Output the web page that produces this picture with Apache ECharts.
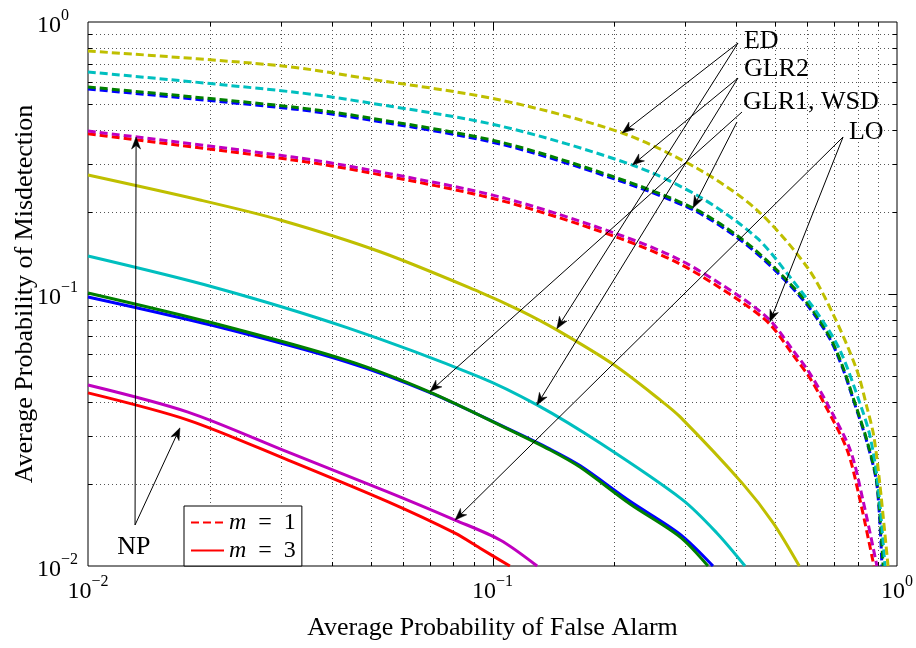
<!DOCTYPE html>
<html>
<head>
<meta charset="utf-8">
<script src="https://cdn.jsdelivr.net/npm/echarts@6/dist/echarts.min.js"></script>
<style>
html,body{margin:0;padding:0;background:#fff;}
#chart{width:916px;height:648px;}
</style>
</head>
<body>
<div id="chart"></div>
<script>
// ---------- tick labels ----------
const xTickExp = ['−2', '−1', '0'];
const yTickExp = ['−2', '−1', '0'];
const gridValues = [0.02,0.03,0.04,0.05,0.06,0.07,0.08,0.09,0.1,0.2,0.3,0.4,0.5,0.6,0.7,0.8,0.9];

// ---------- m = 1 (dashed) ----------
const npPfa1 = [0.01, 0.0321, 0.0498, 0.1045, 0.2, 0.2906, 0.4101, 0.4847, 0.5529, 0.6083, 0.66, 0.753, 0.81, 0.877];
const npPmd1 = [0.388, 0.311, 0.279, 0.221, 0.163, 0.129, 0.094, 0.0775, 0.0598, 0.0492, 0.0397, 0.0267, 0.0175, 0.01];
const loPfa1 = [0.01, 0.0321, 0.0498, 0.1045, 0.2, 0.2906, 0.4101, 0.4847, 0.5529, 0.6083, 0.671, 0.7662, 0.8236, 0.892];
const loPmd1 = [0.3974, 0.319, 0.2857, 0.2273, 0.1676, 0.1334, 0.0975, 0.0802, 0.0622, 0.0512, 0.0397, 0.0267, 0.0175, 0.01];
const glr1Pfa1 = [0.01, 0.0321, 0.0498, 0.1045, 0.2, 0.3131, 0.4101, 0.5045, 0.5993, 0.6823, 0.7349, 0.7782, 0.8424, 0.892, 0.918];
const glr1Pmd1 = [0.567, 0.479, 0.436, 0.356, 0.265, 0.204, 0.158, 0.1205, 0.0912, 0.0684, 0.0531, 0.0412, 0.0286, 0.0199, 0.01];
const wsdPfa1 = [0.01, 0.0321, 0.0498, 0.1045, 0.2, 0.3131, 0.4101, 0.5045, 0.5993, 0.6823, 0.7349, 0.7782, 0.8424, 0.892, 0.924];
const wsdPmd1 = [0.5768, 0.487, 0.4436, 0.362, 0.2692, 0.2071, 0.1607, 0.1225, 0.0927, 0.0695, 0.0539, 0.0418, 0.029, 0.0202, 0.01];
const glr2Pfa1 = [0.01, 0.0321, 0.0498, 0.1045, 0.2217, 0.3258, 0.4506, 0.5437, 0.6455, 0.7226, 0.8096, 0.8573, 0.8964, 0.934];
const glr2Pmd1 = [0.6551, 0.553, 0.5037, 0.4147, 0.2979, 0.2273, 0.1607, 0.1155, 0.0823, 0.0622, 0.0397, 0.0301, 0.0202, 0.01];
const edPfa1 = [0.01, 0.02985, 0.0498, 0.1045, 0.2093, 0.3258, 0.4506, 0.5993, 0.6931, 0.7955, 0.8424, 0.8761, 0.907, 0.9502];
const edPmd1 = [0.7821, 0.6909, 0.6172, 0.5166, 0.3907, 0.2857, 0.2036, 0.1257, 0.0851, 0.0526, 0.0384, 0.0301, 0.02, 0.01];

// ---------- m = 3 (solid) ----------
const npPfa3 = [0.01, 0.01767, 0.03124, 0.05524, 0.0808, 0.093, 0.1104];
const npPmd3 = [0.0433, 0.0344, 0.0245, 0.0172, 0.0132, 0.01164, 0.01];
const loPfa3 = [0.01, 0.01767, 0.03124, 0.05524, 0.0808, 0.1044, 0.1289];
const loPmd3 = [0.0463, 0.0368, 0.0262, 0.0187, 0.01476, 0.01246, 0.01];
const glr1Pfa3 = [0.01, 0.02037, 0.04368, 0.07005, 0.1105, 0.1388, 0.1645, 0.2188, 0.2906, 0.3508];
const glr1Pmd3 = [0.0975, 0.0765, 0.0562, 0.0434, 0.0317, 0.0269, 0.0234, 0.0173, 0.0131, 0.01];
const wsdPfa3 = [0.01, 0.02037, 0.04368, 0.07005, 0.1105, 0.1388, 0.1645, 0.2188, 0.2906, 0.341];
const wsdPmd3 = [0.1009, 0.0782, 0.0570, 0.0436, 0.0316, 0.0267, 0.0231, 0.0169, 0.0128, 0.01];
const glr2Pfa3 = [0.01, 0.02037, 0.04368, 0.093, 0.1288, 0.1845, 0.2951, 0.359, 0.421];
const glr2Pmd3 = [0.1379, 0.1061, 0.0752, 0.0495, 0.0391, 0.0283, 0.0175, 0.0132, 0.01];
const edPfa3 = [0.01, 0.01891, 0.02985, 0.05271, 0.093, 0.1169, 0.1442, 0.2, 0.2596, 0.2906, 0.4163, 0.494, 0.5733];
const edPmd3 = [0.2738, 0.2216, 0.1871, 0.143, 0.1017, 0.0871, 0.0738, 0.0548, 0.0408, 0.0354, 0.0200, 0.0144, 0.01];

// ---------- annotations (data coordinates) ----------
const arrowFromX = [0.4045, 0.4045, 0.4045, 0.4045, 0.4022, 0.4138, 0.7356, 0.7356, 0.01307, 0.01307];
const arrowFromY = [0.837, 0.837, 0.6223, 0.6223, 0.4289, 0.4667, 0.3777, 0.3777, 0.01415, 0.01415];
const arrowToX = [0.2093, 0.1442, 0.2217, 0.1288, 0.3131, 0.07005, 0.4847, 0.0808, 0.01315, 0.01688];
const arrowToY = [0.3907, 0.0745, 0.2979, 0.0391, 0.2071, 0.0438, 0.0789, 0.01476, 0.3777, 0.0322];
const labelText = ['ED', 'GLR2', 'GLR1, WSD', 'LO', 'NP'];
const labelX = [0.4184, 0.4184, 0.4162, 0.7608, 0.01299];
const labelY = [0.851, 0.672, 0.508, 0.394, 0.01175];
const labelAlign = ['left', 'left', 'left', 'left', 'center'];

// ---------- build ----------
const FONT = 'Liberation Serif';
const C = {red:'#ff0000', mag:'#bf00bf', blue:'#0000ff', green:'#008000', cyan:'#00bfbf', yel:'#bfbf00'};
const zip = (a, b) => a.map((v, i) => [v, b[i]]);
const DASH = [8, 4];

function lineSeries(name, xs, ys, color, dashed, z) {
  return {
    type: 'line', name: name, data: zip(xs, ys),
    symbol: 'none', showSymbol: false, smooth: 0.3, silent: true,
    lineStyle: {color: color, width: 3, type: dashed ? DASH : 'solid', cap: 'butt', join: 'round'},
    itemStyle: {color: color},
    z: z
  };
}

const gridItems = [];
gridValues.forEach(v => gridItems.push({dir: 'x', v: v}));
gridValues.forEach(v => gridItems.push({dir: 'y', v: v}));

function renderGrid(params, api) {
  const g = gridItems[params.dataIndex];
  const cs = params.coordSys;
  const x0 = cs.x, y0 = cs.y, x1 = cs.x + cs.width, y1 = cs.y + cs.height;
  const lg = Math.log10(g.v);
  const major = Math.abs(lg - Math.round(lg)) < 1e-9;
  const tl = major ? 8 : 4;
  const dot = {stroke: '#555', lineWidth: 1, lineDash: [1, 3]};
  const solid = {stroke: '#000', lineWidth: 1};
  if (g.dir === 'x') {
    const px = Math.round(api.coord([g.v, 0.1])[0]) + 0.5;
    return {type: 'group', children: [
      {type: 'line', shape: {x1: px, y1: y0, x2: px, y2: y1}, style: dot},
      {type: 'line', shape: {x1: px, y1: y1, x2: px, y2: y1 - tl}, style: solid},
      {type: 'line', shape: {x1: px, y1: y0, x2: px, y2: y0 + tl}, style: solid}
    ]};
  } else {
    const py = Math.round(api.coord([0.1, g.v])[1]) + 0.5;
    return {type: 'group', children: [
      {type: 'line', shape: {x1: x0, y1: py, x2: x1, y2: py}, style: dot},
      {type: 'line', shape: {x1: x0, y1: py, x2: x0 + tl, y2: py}, style: solid},
      {type: 'line', shape: {x1: x1, y1: py, x2: x1 - tl, y2: py}, style: solid}
    ]};
  }
}

const nArrows = arrowFromX.length;
const annData = [];
for (let i = 0; i < nArrows; i++) annData.push([arrowToX[i], arrowToY[i]]);
for (let i = 0; i < labelText.length; i++) annData.push([labelX[i], labelY[i]]);

function renderAnn(params, api) {
  const i = params.dataIndex;
  if (i < nArrows) {
    const a = api.coord([arrowFromX[i], arrowFromY[i]]);
    const b = api.coord([arrowToX[i], arrowToY[i]]);
    const dx = b[0] - a[0], dy = b[1] - a[1];
    const L = Math.hypot(dx, dy);
    const ux = dx / L, uy = dy / L, nx = -uy, ny = ux;
    const hl = 12, hw = 4.5, notch = 3.5;
    const pts = [
      [b[0], b[1]],
      [b[0] - hl * ux + hw * nx, b[1] - hl * uy + hw * ny],
      [b[0] - (hl - notch) * ux, b[1] - (hl - notch) * uy],
      [b[0] - hl * ux - hw * nx, b[1] - hl * uy - hw * ny]
    ];
    return {type: 'group', children: [
      {type: 'line', shape: {x1: a[0], y1: a[1], x2: b[0] - (hl - notch) * ux, y2: b[1] - (hl - notch) * uy},
       style: {stroke: '#000', lineWidth: 1}},
      {type: 'polygon', shape: {points: pts}, style: {fill: '#000', stroke: '#000', lineWidth: 0.5}}
    ]};
  }
  const k = i - nArrows;
  const p = api.coord([labelX[k], labelY[k]]);
  return {type: 'text', x: p[0], y: p[1], style: {
    text: labelText[k], fontFamily: FONT, fontSize: 26, fill: '#000',
    align: labelAlign[k], verticalAlign: 'middle'
  }};
}

const labelRich = {
  b: {fontFamily: FONT, fontSize: 24, lineHeight: 32, verticalAlign: 'bottom', color: '#000'},
  s: {fontFamily: FONT, fontSize: 16, height: 20, verticalAlign: 'top', color: '#000'}
};
function expOf(v) { return Math.round(Math.log10(v)); }
const xFmt = v => '{b|10}{s|' + xTickExp[expOf(v) + 2] + '}';
const yFmt = v => '{b|10}{s|' + yTickExp[expOf(v) + 2] + '}';

const series = [
  {type: 'custom', renderItem: renderGrid, data: gridItems.map(g => g.dir === 'x' ? [g.v, 0.1] : [0.1, g.v]),
   silent: true, z: 1, clip: false},
  lineSeries('m = 1', npPfa1, npPmd1, C.red, true, 2),
  lineSeries('LO1', loPfa1, loPmd1, C.mag, true, 2),
  lineSeries('GLR1_1', glr1Pfa1, glr1Pmd1, C.blue, true, 2),
  lineSeries('WSD1', wsdPfa1, wsdPmd1, C.green, true, 2),
  lineSeries('GLR2_1', glr2Pfa1, glr2Pmd1, C.cyan, true, 2),
  lineSeries('ED1', edPfa1, edPmd1, C.yel, true, 2),
  lineSeries('m = 3', npPfa3, npPmd3, C.red, false, 2),
  lineSeries('LO3', loPfa3, loPmd3, C.mag, false, 2),
  lineSeries('GLR1_3', glr1Pfa3, glr1Pmd3, C.blue, false, 2),
  lineSeries('WSD3', wsdPfa3, wsdPmd3, C.green, false, 2),
  lineSeries('GLR2_3', glr2Pfa3, glr2Pmd3, C.cyan, false, 2),
  lineSeries('ED3', edPfa3, edPmd3, C.yel, false, 2),
  {type: 'custom', renderItem: renderAnn, data: annData, silent: true, z: 5, clip: false}
];

const chart = echarts.init(document.getElementById('chart'), null, {renderer: 'canvas'});
chart.setOption({
  animation: false,
  backgroundColor: '#fff',
  grid: {left: 88, right: 19, top: 22, bottom: 82, show: true, borderColor: '#000', borderWidth: 1,
         backgroundColor: '#fff', containLabel: false, outerBoundsMode: 'none'},
  legend: {
    data: ['m = 1', 'm = 3'], orient: 'vertical', left: 184, top: 506,
    padding: [4, 6, 3, 6], itemGap: 3, itemWidth: 33, itemHeight: 14, itemTextGap: 3,
    backgroundColor: '#fff', borderColor: '#000', borderWidth: 1, borderRadius: 0,
    selectedMode: false, z: 10,
    itemStyle: {opacity: 0, borderWidth: 0},
    formatter: name => '{i|m}\u2002=\u2002' + name.slice(-1),
    textStyle: {fontFamily: FONT, fontSize: 24, lineHeight: 25, color: '#000',
      rich: {i: {fontFamily: FONT, fontSize: 24, fontStyle: 'italic', lineHeight: 25, color: '#000'}}}
  },
  xAxis: {
    type: 'log', logBase: 10, min: 0.01, max: 1,
    axisLine: {show: false}, axisTick: {show: false}, splitLine: {show: false},
    axisLabel: {formatter: xFmt, rich: labelRich, margin: 6, showMinLabel: true, showMaxLabel: true},
    name: 'Average Probability of False Alarm', nameLocation: 'middle', nameGap: 49, nameMoveOverlap: false,
    nameTextStyle: {fontFamily: FONT, fontSize: 26, color: '#000'}
  },
  yAxis: {
    type: 'log', logBase: 10, min: 0.01, max: 1,
    axisLine: {show: false}, axisTick: {show: false}, splitLine: {show: false},
    axisLabel: {formatter: yFmt, rich: labelRich, margin: 51, align: 'left', showMinLabel: true, showMaxLabel: true},
    name: 'Average Probability of Misdetection', nameLocation: 'middle', nameGap: 50, nameMoveOverlap: false,
    nameTextStyle: {fontFamily: FONT, fontSize: 26, color: '#000'}
  },
  series: series
});
</script>
</body>
</html>
